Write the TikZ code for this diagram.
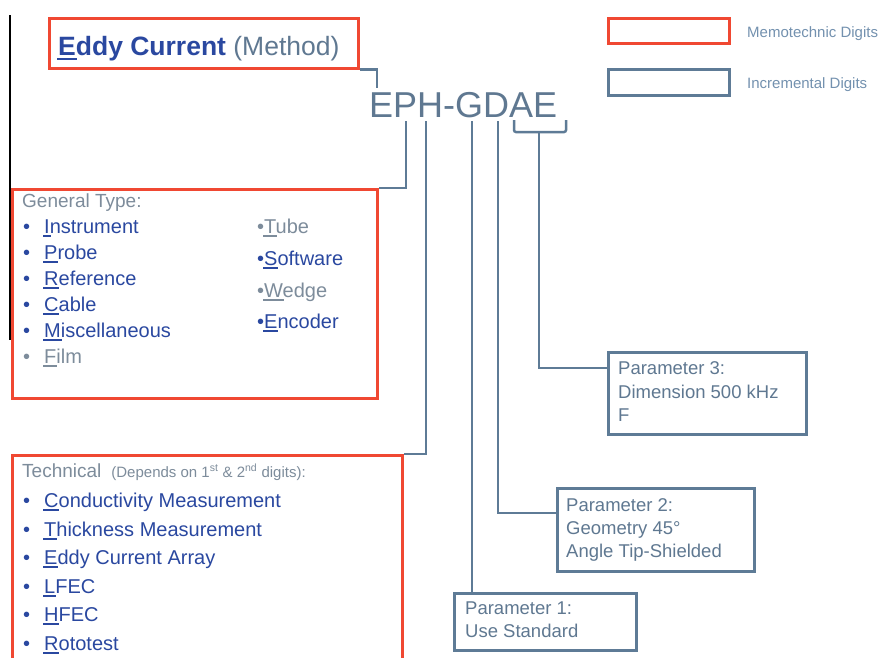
\documentclass[tikz,border=0pt]{standalone}
\usepackage{fontspec}
\setmainfont{Liberation Sans}
\definecolor{myred}{RGB}{240,72,50}
\definecolor{lineblue}{RGB}{94,123,150}
\definecolor{tblue}{RGB}{42,72,160}
\definecolor{tgray}{RGB}{125,140,155}
\definecolor{pgray}{RGB}{95,120,145}
\definecolor{legcol}{RGB}{115,145,175}
\newcommand\ulf[1]{\setbox0\hbox{#1}\rlap{\kern-0.04em\rule[-0.2em]{\dimexpr\wd0+0.08em\relax}{0.08em}}#1}
\newcommand\bl{\makebox[21pt][l]{\textbullet}}
\begin{document}
\begin{tikzpicture}[x=1pt,y=-1pt,
  redbox/.style={draw=myred,line width=2.5pt,anchor=north west,inner sep=0pt},
  bluebox/.style={draw=lineblue,line width=2.5pt,anchor=north west,inner sep=0pt},
  conn/.style={draw=lineblue,line width=2.5pt},
  txt/.style={anchor=base west,inner sep=0pt},
  item/.style={txt,font=\fontsize{20}{24}\selectfont,text=tblue},
  gitem/.style={txt,font=\fontsize{20}{24}\selectfont,text=tgray},
  head/.style={txt,font=\fontsize{19}{23}\selectfont,text=tgray},
  ptxt/.style={txt,font=\fontsize{18.5}{23.5}\selectfont,text=pgray},
  leg/.style={txt,font=\fontsize{15}{18}\selectfont,text=legcol}]
\useasboundingbox (0,0) rectangle (882,657);
\fill[white] (0,0) rectangle (882,657);
% slide edge
\draw[black,line width=1.2pt] (10,15) -- (10,340);
% boxes
\node[redbox,minimum width=309pt,minimum height=50pt] (title) at (48,17) {};
\node[redbox,minimum width=365pt,minimum height=209pt] (gen) at (11,188) {};
\node[redbox,minimum width=390pt,minimum height=230pt] (tech) at (11,454) {};
\node[bluebox,minimum width=198pt,minimum height=82pt] (p3) at (607,351) {};
\node[bluebox,minimum width=197pt,minimum height=83pt] (p2) at (556,487) {};
\node[bluebox,minimum width=182pt,minimum height=57pt] (p1) at (453,592) {};
% legend
\node[redbox,minimum width=121pt,minimum height=25pt] (legred) at (607,17) {};
\node[bluebox,minimum width=121pt,minimum height=26pt] (legblue) at (607,68) {};
\node[leg] (legredt) at (747,37) {Memotechnic Digits};
\node[leg] (legbluet) at (747,88) {Incremental Digits};
% title
\node[txt,font=\fontsize{26.5}{30}\selectfont] (titletext) at (58,55)
  {\textcolor{tblue}{\bfseries\ulf{E}ddy Current} \textcolor{pgray}{(Method)}};
% code
\node[txt,font=\fontsize{36}{40}\selectfont,text=pgray] (code) at (369,117) {EPH-GDAE};
\coordinate (cE) at (377,88);
\coordinate (sP) at (406,121);
\coordinate (sH) at (426,121);
\coordinate (sG) at (472,121);
\coordinate (sD) at (498,121);
\coordinate (bL) at (514,120);
\coordinate (bS) at (539,132);
% connectors
\draw[conn] (title.south east) -| (cE);
\draw[conn] (sP) |- (gen.north east);
\draw[conn] (sH) |- (tech.north east);
\draw[conn] (sG) -- (sG |- p1.north);
\draw[conn] (sD) |- ([yshift=-26pt]p2.north west);
\draw[conn,rounded corners=2pt] (bL) -- ++(0,12) -- ++(52,0) -- ++(0,-12);
\draw[conn] (bS) |- ([yshift=-17pt]p3.north west);
% general type
\node[head] (genh) at (22,207) {General Type:};
\node[item] (g1) at (23,233) {\bl\ulf{I}nstrument};
\node[item] (g2) at (23,259) {\bl\ulf{P}robe};
\node[item] (g3) at (23,285) {\bl\ulf{R}eference};
\node[item] (g4) at (23,311) {\bl\ulf{C}able};
\node[item] (g5) at (23,337) {\bl\ulf{M}iscellaneous};
\node[gitem] (g6) at (23,363) {\bl\ulf{F}ilm};
\node[gitem] (g7) at (257,233) {\textbullet\ulf{T}ube};
\node[item] (g8) at (257,265) {\textbullet\ulf{S}oftware};
\node[gitem] (g9) at (257,297) {\textbullet\ulf{W}edge};
\node[item] (g10) at (257,328) {\textbullet\ulf{E}ncoder};
% technical
\node[head] (techh) at (22,477) {Technical\hspace{10pt}{\fontsize{15}{18}\selectfont(Depends on 1\textsuperscript{st} \& 2\textsuperscript{nd} digits):}};
\node[item] (t1) at (23,507) {\bl\ulf{C}onductivity Measurement};
\node[item] (t2) at (23,536) {\bl\ulf{T}hickness Measurement};
\node[item] (t3) at (23,564) {\bl\ulf{E}ddy Current Array};
\node[item] (t4) at (23,593) {\bl\ulf{L}FEC};
\node[item] (t5) at (23,621) {\bl\ulf{H}FEC};
\node[item] (t6) at (23,650) {\bl\ulf{R}ototest};
% parameters
\node[ptxt] (p3a) at (618,374) {Parameter 3:};
\node[ptxt] (p3b) at (618,398) {Dimension 500 kHz};
\node[ptxt] (p3c) at (618,421) {F};
\node[ptxt] (p2a) at (566,511) {Parameter 2:};
\node[ptxt] (p2b) at (566,534) {Geometry 45°};
\node[ptxt] (p2c) at (566,557) {Angle Tip-Shielded};
\node[ptxt] (p1a) at (465,614) {Parameter 1:};
\node[ptxt] (p1b) at (465,637) {Use Standard};
\end{tikzpicture}
\end{document}
